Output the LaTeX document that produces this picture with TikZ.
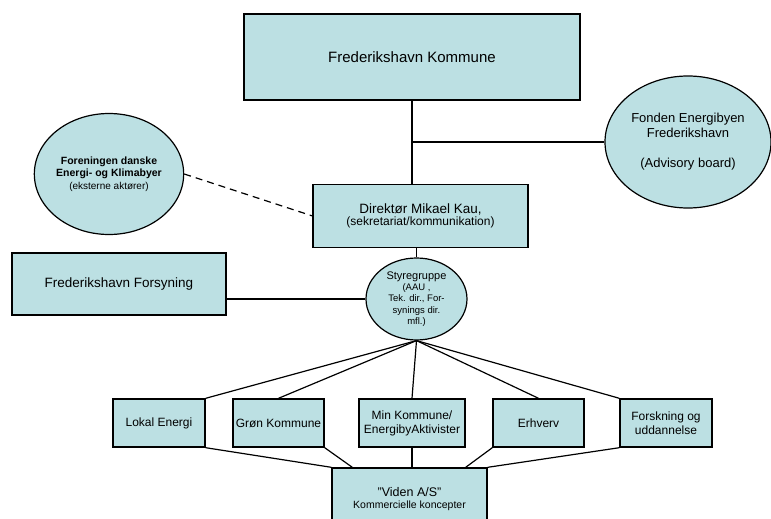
\documentclass[tikz,border=0pt]{standalone}
\usepackage{fontspec}
\setmainfont{Liberation Sans}
\usetikzlibrary{positioning,shapes.geometric}
\definecolor{boxfill}{RGB}{188,224,227}

\begin{document}
\begin{tikzpicture}[
  x=1pt,y=1pt,
  box/.style={draw,line width=1.4pt,fill=boxfill,inner sep=0pt,align=center},
  oval/.style={ellipse,draw,line width=1.2pt,fill=boxfill,inner sep=0pt,align=center},
  unit/.style={box,minimum height=48pt,font=\fontsize{12}{14}\selectfont},
  every edge/.style={draw,line width=1.2pt}
]
  \useasboundingbox (0,0) rectangle (771,-519);
  % top of the organisation
  \node[box,minimum width=336pt,minimum height=86pt,font=\fontsize{15}{18}\selectfont] (kom) at (412,-57) {Frederikshavn Kommune};
  \node[box,minimum width=215pt,minimum height=63pt,below=83pt of kom,xshift=8.5pt] (dir)
    {{\fontsize{13.5}{16}\selectfont Direktør Mikael Kau,}\\{\fontsize{12}{14}\selectfont (sekretariat/kommunikation)}};
  \node[oval,minimum width=166pt,minimum height=132pt,font=\fontsize{13}{15}\selectfont] (fonden) at (688,-142)
    {Fonden Energibyen\\Frederikshavn\\[15pt](Advisory board)};
  \node[oval,minimum width=146pt,minimum height=121pt,font=\fontsize{10.5}{12.5}\selectfont\bfseries] (foren) at (109,-174)
    {Foreningen danske\\Energi- og Klimabyer\\{\mdseries\fontsize{10}{12}\selectfont (eksterne aktører)}};
  \node[box,minimum width=214pt,minimum height=62pt,font=\fontsize{13.5}{16}\selectfont] (forsy) at (119,-284) {Frederikshavn Forsyning};
  \node[oval,minimum width=101pt,minimum height=82pt,font=\fontsize{9.5}{11.25}\selectfont] (styre) at (416.5,-299)
    {{\fontsize{11}{11.25}\selectfont Styregruppe}\\(AAU ,\\Tek. dir., For-\\synings dir.\\mfl.)};
  % units
  \node[unit,minimum width=92pt] (lokal) at (159,-423) {Lokal Energi};
  \node[unit,minimum width=91pt] (gron) at (278.5,-423) {Grøn Kommune};
  \node[unit,minimum width=106pt] (min) at (412,-423) {Min Kommune/\\EnergibyAktivister};
  \node[unit,minimum width=91pt] (erhv) at (538.5,-423) {Erhverv};
  \node[unit,minimum width=92pt] (forsk) at (666,-423) {Forskning og\\uddannelse};
  \node[box,minimum width=155pt,minimum height=62pt] (viden) at (409.5,-499)
    {{\fontsize{12.5}{15}\selectfont "Viden A/S"}\\{\fontsize{10.5}{13}\selectfont Kommercielle koncepter}};
  % connections
  \path (kom.south) edge (kom.south |- dir.north);
  \path (fonden.west) edge (fonden.west -| kom.south);
  \path (foren.east) edge[dash pattern=on 7pt off 5pt] (dir.west);
  \path (styre.north) edge (styre.north |- dir.south);
  \path (styre.west) edge (styre.west -| forsy.east);
  \path (styre.south) edge (lokal.north east);
  \path (styre.south) edge (gron.north);
  \path (styre.south) edge (min.north);
  \path (styre.south) edge (erhv.north);
  \path (styre.south) edge (forsk.north west);
  \path (lokal.south east) edge (viden.north west);
  \path (gron.south east) edge ([xshift=21pt]viden.north west);
  \path (min.south) edge (min.south |- viden.north);
  \path (erhv.south west) edge ([xshift=-22pt]viden.north east);
  \path (forsk.south west) edge (viden.north east);
\end{tikzpicture}
\end{document}
